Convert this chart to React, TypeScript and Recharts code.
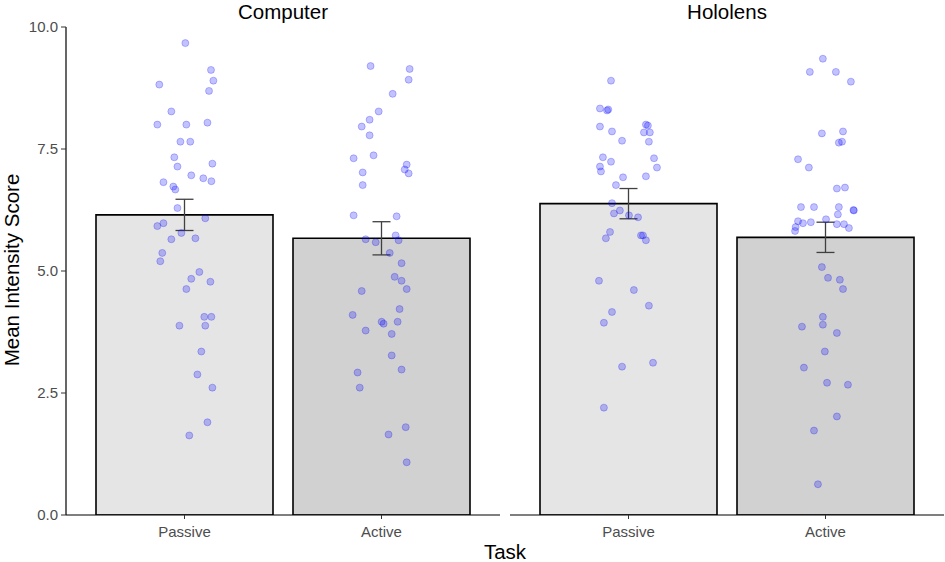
import { ComposedChart, Bar, Cell, ErrorBar, Scatter, XAxis, YAxis } from 'recharts';

const FONT = '"Liberation Sans", Arial, Helvetica, sans-serif';

const tasks = ['Passive', 'Active'];
const yTicks = [0, 2.5, 5, 7.5, 10];

const computerMeans = [6.15, 5.67];
const computerSE = [0.32, 0.34];
const hololensMeans = [6.38, 5.69];
const hololensSE = [0.31, 0.31];

// individual participant scores + horizontal jitter (category units)
const compPassiveScores = [9.67, 9.12, 8.9, 8.82, 8.69, 8.27, 8.0, 8.0, 8.04, 7.65, 7.65, 7.33, 7.14, 7.2, 6.96, 6.82, 6.73, 6.67, 6.9, 6.84, 6.29, 6.08, 5.92, 5.98, 5.78, 5.65, 5.67, 5.37, 5.2, 4.98, 4.84, 4.78, 4.63, 4.06, 4.06, 3.88, 3.88, 3.35, 2.88, 2.61, 1.9, 1.63];
const compPassiveJitter = [0.005, 0.135, 0.147, -0.127, 0.125, -0.066, -0.137, 0.01, 0.117, -0.02, 0.03, -0.051, -0.035, 0.142, 0.035, -0.106, -0.056, -0.046, 0.096, 0.137, -0.035, 0.106, -0.137, -0.106, -0.015, -0.066, 0.056, -0.112, -0.122, 0.076, 0.035, 0.132, 0.01, 0.101, 0.137, -0.025, 0.106, 0.086, 0.066, 0.142, 0.117, 0.025];

const compActiveScores = [9.2, 9.14, 8.92, 8.63, 8.27, 8.1, 7.96, 7.78, 7.31, 7.37, 7.18, 7.08, 7.0, 7.02, 6.76, 6.14, 6.12, 5.73, 5.65, 5.59, 5.63, 5.37, 5.16, 4.88, 4.8, 4.63, 4.59, 4.22, 4.1, 3.96, 3.92, 3.96, 3.78, 3.71, 3.27, 2.98, 2.92, 2.61, 1.8, 1.65, 1.08];
const compActiveJitter = [-0.056, 0.142, 0.137, 0.056, -0.015, -0.061, -0.101, -0.061, -0.142, -0.041, 0.127, 0.117, 0.137, -0.096, -0.096, -0.142, 0.076, 0.071, -0.081, -0.03, 0.086, 0.041, 0.101, 0.066, 0.101, 0.127, -0.101, 0.091, -0.147, 0.0, 0.01, 0.081, -0.081, 0.051, 0.051, 0.101, -0.122, -0.111, 0.122, 0.035, 0.127];

const holoPassiveScores = [8.9, 8.33, 8.29, 8.31, 7.96, 8.0, 7.98, 7.86, 7.84, 7.84, 7.67, 7.65, 7.33, 7.24, 7.31, 7.14, 7.04, 7.12, 6.92, 6.94, 6.76, 6.39, 6.18, 6.24, 6.14, 6.1, 5.8, 5.67, 5.73, 5.73, 5.63, 4.8, 4.61, 4.29, 4.16, 3.94, 3.04, 3.12, 2.2];
const holoPassiveJitter = [-0.088, -0.144, -0.108, -0.102, -0.144, 0.089, 0.099, -0.083, 0.079, 0.109, -0.032, 0.104, -0.129, -0.088, 0.13, -0.144, -0.139, 0.145, -0.027, 0.089, -0.063, -0.083, -0.073, -0.043, 0.003, 0.049, -0.093, -0.114, 0.064, 0.074, 0.089, -0.149, 0.028, 0.104, -0.083, -0.124, -0.032, 0.125, -0.124];

const holoActiveScores = [9.35, 9.08, 9.08, 8.88, 7.82, 7.86, 7.65, 7.63, 7.29, 7.12, 6.69, 6.71, 6.31, 6.31, 6.31, 6.24, 6.25, 6.16, 6.06, 6.02, 5.98, 6.0, 5.9, 5.82, 5.96, 5.96, 5.88, 5.08, 4.86, 4.82, 4.63, 4.06, 3.86, 3.9, 3.73, 3.35, 3.02, 2.71, 2.67, 2.02, 1.73, 0.63];
const holoActiveJitter = [-0.014, -0.08, 0.052, 0.128, -0.019, 0.088, 0.083, 0.067, -0.14, -0.085, 0.057, 0.098, -0.125, -0.059, 0.067, 0.143, 0.141, 0.062, 0.002, -0.14, -0.115, -0.075, -0.152, -0.155, 0.057, 0.093, 0.118, -0.019, 0.012, 0.072, 0.088, -0.014, -0.12, -0.014, 0.057, -0.004, -0.11, 0.007, 0.113, 0.057, -0.059, -0.039];

const toPoints = (scores: number[], jitter: number[], pos: number) =>
  scores.map((v, i) => ({ x: pos + jitter[i], v }));

const Dot = (props: any) => (
  <circle cx={props.cx} cy={props.cy} r={3.5} fill="#0000FF" fillOpacity={0.24}
    stroke="#0000FF" strokeOpacity={0.24} strokeWidth={1} />
);

function Panel({ means, se, points, showY, width, marginRight }: {
  means: number[]; se: number[]; points: { x: number; v: number }[];
  showY: boolean; width: number; marginRight: number;
}) {
  const data = tasks.map((t, i) => ({ task: t, mean: means[i], se: se[i] }));
  return (
    <ComposedChart width={width} height={562} data={data}
      margin={{ top: 27, right: marginRight, left: 0, bottom: 0 }}>
      <XAxis xAxisId="cat" dataKey="task" type="category" padding={{ left: 20, right: 20 }}
        height={47} tickSize={4} tickMargin={7}
        axisLine={{ stroke: '#000', strokeWidth: 1.2 }} tickLine={{ stroke: '#333' }}
        tick={{ fill: '#4D4D4D', fontSize: 15, fontFamily: FONT }} />
      <XAxis xAxisId="num" dataKey="x" type="number" domain={[0.4, 2.6]} hide allowDataOverflow />
      <YAxis domain={[0, 10]} ticks={yTicks} hide={!showY} width={66} allowDataOverflow
        tickSize={5} tickMargin={3} tickFormatter={(v: number) => v.toFixed(1)}
        axisLine={{ stroke: '#000', strokeWidth: 1.2 }} tickLine={{ stroke: '#333' }}
        tick={{ fill: '#4D4D4D', fontSize: 15, fontFamily: FONT }} />
      <Bar xAxisId="cat" dataKey="mean" barSize={177} stroke="#000" strokeWidth={1.6} isAnimationActive={false}>
        {data.map((d, i) => <Cell key={d.task} fill={i === 0 ? '#E5E5E5' : '#D1D1D1'} />)}
        <ErrorBar dataKey="se" width={9} stroke="#404040" strokeWidth={1.3} />
      </Bar>
      <Scatter xAxisId="num" data={points} dataKey="v" shape={Dot} isAnimationActive={false} />
    </ComposedChart>
  );
}

export default function App() {
  const compPts = [
    ...toPoints(compPassiveScores, compPassiveJitter, 1),
    ...toPoints(compActiveScores, compActiveJitter, 2),
  ];
  const holoPts = [
    ...toPoints(holoPassiveScores, holoPassiveJitter, 1),
    ...toPoints(holoActiveScores, holoActiveJitter, 2),
  ];
  return (
    <div style={{ position: 'absolute', left: 0, top: 0, width: 945, height: 562, background: '#fff' }}>
      <div style={{ position: 'absolute', left: 0, top: 0 }}>
        <Panel means={computerMeans} se={computerSE} points={compPts} showY width={505} marginRight={5} />
      </div>
      <div style={{ position: 'absolute', left: 510, top: 0 }}>
        <Panel means={hololensMeans} se={hololensSE} points={holoPts} showY={false} width={435} marginRight={1} />
      </div>
      <svg width={945} height={562} style={{ position: 'absolute', left: 0, top: 0, pointerEvents: 'none' }}>
        <g fontFamily={FONT} fill="#000">
          <text x={283} y={18.5} fontSize={20.5} textAnchor="middle">Computer</text>
          <text x={727} y={18.5} fontSize={20.5} textAnchor="middle">Hololens</text>
          <text x={505} y={559} fontSize={20.5} textAnchor="middle">Task</text>
          <text transform="rotate(-90)" x={-270} y={19} fontSize={20.5} textAnchor="middle">Mean Intensity Score</text>
        </g>
      </svg>
    </div>
  );
}
